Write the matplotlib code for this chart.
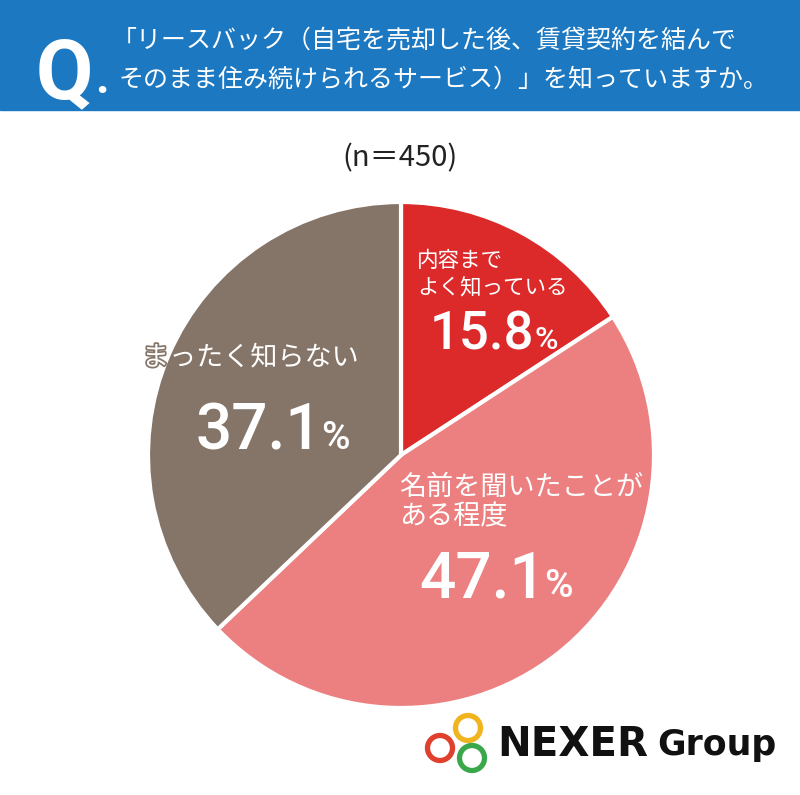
import numpy as np
import matplotlib.pyplot as plt
import matplotlib.patheffects as pe
from matplotlib.patches import Rectangle, Circle

plt.rcParams['font.family'] = ['Noto Sans CJK JP', 'DejaVu Sans']

# データ
labels = ['内容まで\nよく知っている', '名前を聞いたことが\nある程度', 'まったく知らない']
values = [15.8, 47.1, 37.1]
colors = ['#dc2a2a', '#ec8080', '#857569']
n_total = 450
title_lines = ['「リースバック（自宅を売却した後、賃貸契約を結んで',
               'そのまま住み続けられるサービス）」を知っていますか。']

W, H = 800, 795
fig = plt.figure(figsize=(W / 100, H / 100), dpi=100)
ax = fig.add_axes([0, 0, 1, 1])
ax.set_xlim(0, W)
ax.set_ylim(0, H)
ax.set_aspect('equal')
ax.axis('off')

def Y(y):
    return H - y

# ヘッダー
ax.add_patch(Rectangle((0, Y(110)), W, 110, color='#1b78c1', zorder=1))
ax.text(36, Y(98), 'Q', color='white', fontsize=60, fontweight='bold',
        ha='left', va='baseline', family='Roboto', zorder=2)
ax.text(95, Y(93), '.', color='white', fontsize=34, fontweight='bold',
        ha='left', va='baseline', family='Roboto', zorder=2)
ax.text(112, Y(40), title_lines[0], color='white', fontsize=18,
        ha='left', va='center', zorder=2)
ax.text(118, Y(80), title_lines[1], color='white', fontsize=18,
        ha='left', va='center', zorder=2)

ax.text(400, Y(158), f'(n＝{n_total})', fontsize=21, ha='center', va='center',
        color='#222222')

# 円グラフ
ax.pie(values, colors=colors, startangle=90, counterclock=False,
       center=(401, Y(455)), radius=253,
       wedgeprops=dict(edgecolor='white', linewidth=3))
ax.set_xlim(0, W)
ax.set_ylim(0, H)

num = dict(color='white', fontweight='medium', family='Roboto',
           ha='left', va='baseline')

# ラベル
ax.text(417, Y(275), labels[0], color='white', fontsize=15.5,
        ha='left', va='center', linespacing=1.3)
ax.text(430, Y(349), f'{values[0]}', fontsize=38, **num)
ax.text(535, Y(349), '%', fontsize=23, **num)

ax.text(142, Y(358), labels[2], color='white', fontsize=19.5,
        ha='left', va='center',
        path_effects=[pe.withStroke(linewidth=2.5, foreground=colors[2])])
ax.text(196, Y(449), f'{values[2]}', fontsize=46, **num)
ax.text(321, Y(449), '%', fontsize=28, **num)

ax.text(399, Y(502), labels[1], color='white', fontsize=19.5,
        ha='left', va='center', linespacing=1.15)
ax.text(419, Y(597), f'{values[1]}', fontsize=46, **num)
ax.text(544, Y(597), '%', fontsize=28, **num)

# ロゴ
for cx, cy, c in [(468, 728, '#f0b41e'), (440, 748, '#e0412f'), (472, 758, '#3aa74a')]:
    ax.add_patch(Circle((cx, Y(cy)), 12.5, fill=False, edgecolor=c, linewidth=3.8))
ax.text(497, Y(745), 'NEXER', fontsize=29, fontweight='bold', ha='left',
        va='center', color='#111111', family='DejaVu Sans')
ax.text(657, Y(745), 'Group', fontsize=25, fontweight='bold', ha='left',
        va='center', color='#111111', family='DejaVu Sans')

fig.savefig('out.png', dpi=100)
